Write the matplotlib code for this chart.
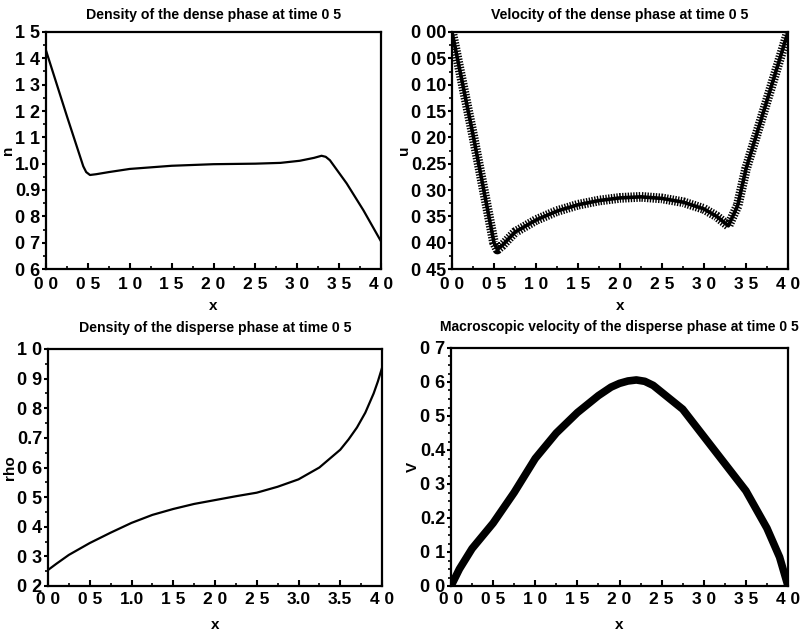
import matplotlib
matplotlib.use('Agg')
import matplotlib.pyplot as plt
from matplotlib.ticker import MultipleLocator

plt.rcParams['font.family'] = ['Liberation Sans', 'DejaVu Sans']
plt.rcParams['font.weight'] = 'bold'
plt.rcParams['axes.titleweight'] = 'bold'
plt.rcParams['axes.labelweight'] = 'bold'
plt.rcParams['lines.scale_dashes'] = False

# --- data ---
x_ticks = [0.0, 0.5, 1.0, 1.5, 2.0, 2.5, 3.0, 3.5, 4.0]
x_labels_top = ['0 0', '0 5', '1 0', '1 5', '2 0', '2 5', '3 0', '3 5', '4 0']
x_labels_bl = ['0 0', '0 5', '1.0', '1 5', '2 0', '2 5', '3.0', '3.5', '4 0']

# dense phase density n
n_x = [0.0, 0.25, 0.445, 0.48, 0.525, 0.6, 0.75, 1.0, 1.5, 2.0, 2.5, 2.8, 3.03, 3.2, 3.29, 3.34, 3.39, 3.59, 3.79, 4.0]
n_y = [1.43, 1.18, 0.99, 0.968, 0.957, 0.960, 0.968, 0.980, 0.992, 0.998, 1.0, 1.003, 1.011, 1.022, 1.030, 1.026, 1.013, 0.925, 0.823, 0.705]
n_yticks = [0.6, 0.7, 0.8, 0.9, 1.0, 1.1, 1.2, 1.3, 1.4, 1.5]
n_ylabels = ['0 6', '0 7', '0 8', '0.9', '1.0', '1 1', '1 2', '1 3', '1 4', '1 5']

# dense phase velocity u
u_x = [0.0, 0.25, 0.5, 0.54, 0.6, 0.75, 1.0, 1.25, 1.5, 1.75, 2.0, 2.25, 2.5, 2.75, 3.0, 3.15, 3.29, 3.4, 3.5, 3.75, 4.0]
u_y = [0.0, -0.195, -0.40, -0.413, -0.405, -0.38, -0.357, -0.340, -0.328, -0.320, -0.315, -0.313, -0.316, -0.323, -0.336, -0.350, -0.368, -0.33, -0.26, -0.13, 0.0]
u_yticks = [0.0, -0.05, -0.10, -0.15, -0.20, -0.25, -0.30, -0.35, -0.40, -0.45]
u_ylabels = ['0 00', '0 05', '0 10', '0 15', '0 20', '0.25', '0 30', '0 35', '0 40', '0 45']

# disperse phase density rho
rho_x = [0.0, 0.1, 0.25, 0.5, 0.75, 1.0, 1.25, 1.5, 1.75, 2.0, 2.25, 2.5, 2.75, 3.0, 3.25, 3.5, 3.6, 3.7, 3.8, 3.9, 3.95, 4.0]
rho_y = [0.254, 0.275, 0.305, 0.345, 0.38, 0.413, 0.44, 0.46, 0.477, 0.49, 0.503, 0.515, 0.535, 0.56, 0.60, 0.66, 0.695, 0.735, 0.785, 0.85, 0.89, 0.936]
rho_yticks = [0.2, 0.3, 0.4, 0.5, 0.6, 0.7, 0.8, 0.9, 1.0]
rho_ylabels = ['0 2', '0 3', '0 4', '0 5', '0 6', '0.7', '0 8', '0 9', '1 0']

# disperse phase macroscopic velocity V
v_x = [0.0, 0.1, 0.25, 0.5, 0.75, 1.0, 1.25, 1.5, 1.75, 1.9, 2.0, 2.1, 2.2, 2.3, 2.4, 2.5, 2.75, 3.0, 3.25, 3.5, 3.75, 3.9, 4.0]
v_y = [0.0, 0.05, 0.11, 0.185, 0.275, 0.375, 0.45, 0.51, 0.56, 0.585, 0.596, 0.603, 0.606, 0.602, 0.59, 0.57, 0.52, 0.44, 0.36, 0.28, 0.17, 0.085, 0.0]
v_yticks = [0.0, 0.1, 0.2, 0.3, 0.4, 0.5, 0.6, 0.7]
v_ylabels = ['0 0', '0 1', '0.2', '0 3', '0.4', '0 5', '0 6', '0 7']

W, H = 805, 632
fig = plt.figure(figsize=(W / 100, H / 100), dpi=100)


def px_axes(left, top, right, bottom):
    return fig.add_axes([left / W, 1 - bottom / H, (right - left) / W, (bottom - top) / H])


def style(ax, title, ylabel, xlabels, yticks, ylabels, yminor, top_row, title_size=10.2):
    ax.set_xlim(0, 4)
    ax.set_xticks(x_ticks, xlabels)
    ax.set_yticks(yticks, ylabels)
    ax.xaxis.set_minor_locator(MultipleLocator(0.25))
    ax.yaxis.set_minor_locator(MultipleLocator(yminor))
    ax.tick_params(axis='x', direction='in', length=4, width=1.5, labelsize=12.5,
                   pad=6 if top_row else 4.5)
    ax.tick_params(axis='x', which='minor', direction='in', length=2.5, width=1.2)
    ax.tick_params(axis='y', direction='out', length=3, width=1.5, labelsize=13, pad=1)
    ax.tick_params(axis='y', which='minor', direction='out', length=2, width=1.2)
    for s in ax.spines.values():
        s.set_linewidth(1.6)
    ax.set_title(title, fontsize=title_size, pad=9 if top_row else 12)
    ax.set_xlabel('x', fontsize=11, labelpad=4.5 if top_row else 8)
    ax.set_ylabel(ylabel, fontsize=11, labelpad=0)


ax1 = px_axes(46, 32, 381, 269)
ax1.plot(n_x, n_y, color='black', lw=1.6)
ax1.set_ylim(0.6, 1.5)
style(ax1, 'Density of the dense phase at time 0 5', 'n', x_labels_top, n_yticks, n_ylabels, 0.05, True)

ax2 = px_axes(452, 32, 788, 269)
ax2.plot(u_x, u_y, color='black', lw=2.6)
ax2.plot(u_x, u_y, color='black', lw=7.0, dashes=(1.0, 1.0))
ax2.set_ylim(-0.45, 0.0)
style(ax2, 'Velocity of the dense phase at time 0 5', 'u', x_labels_top, u_yticks, u_ylabels, 0.025, True)

ax3 = px_axes(48, 349, 382, 586)
ax3.plot(rho_x, rho_y, color='black', lw=1.6)
ax3.set_ylim(0.2, 1.0)
style(ax3, 'Density of the disperse phase at time 0 5', 'rho', x_labels_bl, rho_yticks, rho_ylabels, 0.05, False)

ax4 = px_axes(451, 348, 788, 586)
ax4.plot(v_x, v_y, color='black', lw=5.5, solid_capstyle='butt')
ax4.set_ylim(0.0, 0.7)
style(ax4, 'Macroscopic velocity of the disperse phase at time 0 5', 'V', x_labels_top, v_yticks, v_ylabels, 0.025, False,
      title_size=10.0)

fig.savefig('out.png', dpi=100)
